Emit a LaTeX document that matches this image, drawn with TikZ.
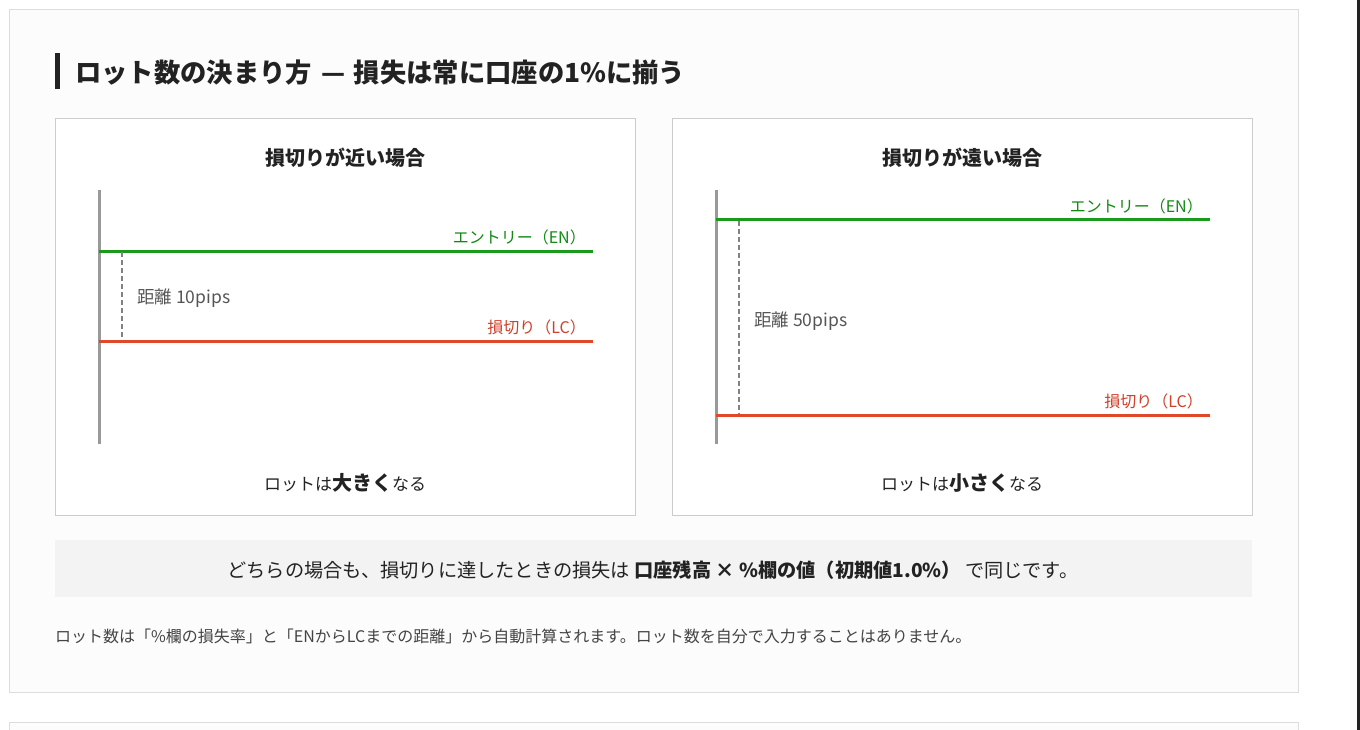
\documentclass[tikz,border=0pt]{standalone}
\usepackage{fontspec}
\setmainfont{Noto Sans CJK JP}
\usetikzlibrary{positioning}
\definecolor{cardbg}{HTML}{FCFCFC}
\definecolor{cardline}{HTML}{DDDDDD}
\definecolor{panelline}{HTML}{CCCCCC}
\definecolor{axisgray}{HTML}{999999}
\definecolor{enline}{HTML}{1A9A1A}
\definecolor{entext}{HTML}{128A12}
\definecolor{lcline}{HTML}{E0482A}
\definecolor{lctext}{HTML}{D0402A}
\definecolor{bannerbg}{HTML}{F3F3F3}
\definecolor{txtdark}{HTML}{222222}
\definecolor{txtgray}{HTML}{555555}
\tikzset{
  panelbox/.style={draw=panelline, line width=1pt, fill=white},
  axisline/.style={draw=axisgray, line width=3pt},
  enlevel/.style={draw=enline, line width=3pt},
  lclevel/.style={draw=lcline, line width=3pt},
  distline/.style={draw=axisgray!85!black, line width=1.6pt, dash pattern=on 5pt off 3pt},
  paneltitle/.style={font=\bfseries\fontsize{20}{24}\selectfont, text=txtdark, inner sep=0pt},
  leveltext/.style={font=\fontsize{16}{19}\selectfont, inner sep=0pt, anchor=east},
  disttext/.style={font=\fontsize{17.5}{21}\selectfont, text=txtgray, inner sep=0pt, anchor=west},
  resulttext/.style={font=\fontsize{17}{21}\selectfont, text=txtdark, inner sep=0pt}
}
\begin{document}
\begin{tikzpicture}[x=1pt, y=-1pt]
  \useasboundingbox (0,0) rectangle (1360,730);
  \fill[white] (0,0) rectangle (1360,730);

  % Cards
  \draw[cardline, fill=cardbg, line width=1pt] (9.5,9.5) rectangle (1298.5,692.5);
  \draw[cardline, fill=cardbg, line width=1pt] (9.5,722.5) rectangle (1298.5,745);
  \fill[txtdark] (1357,0) rectangle (1360,730);

  % Heading
  \fill[txtdark] (55,53) rectangle (60,89);
  \node[anchor=west, inner sep=0pt, text=txtdark, font=\bfseries\fontsize{26.3}{31}\selectfont] (head) at (75,73)
    {ロット数の決まり方\hspace{10pt}—\hspace{8pt}損失は常に口座の1\%に揃う};

  % Left panel: near stop
  \draw[panelbox] (55.5,118.5) rectangle (635.5,515.5);
  \node[paneltitle] (ntitle) at (345,158) {損切りが近い場合};
  \coordinate (naxtop) at (99,190);
  \coordinate (naxbot) at (99,444);
  \coordinate (nen0) at (99,251);
  \coordinate (nen1) at (593,251);
  \coordinate (nlc0) at (99,341);
  \coordinate (nlc1) at (593,341);
  \coordinate (nd0) at (122,252);
  \coordinate (nd1) at (122,340);
  \draw[axisline] (naxtop) -- (naxbot);
  \draw[enlevel] (nen0) -- (nen1);
  \draw[lclevel] (nlc0) -- (nlc1);
  \draw[distline] (nd0) -- (nd1);
  \node[leveltext, text=entext] (nentext) at (586,237) {エントリー（EN）};
  \node[leveltext, text=lctext] (nlctext) at (586,327) {損切り（LC）};
  \node[disttext] (ndist) at (137,298) {距離 10pips};
  \node[resulttext] (nres) at (345,483)
    {ロットは{\bfseries\fontsize{20}{24}\selectfont 大きく}なる};

  % Right panel: far stop
  \begin{scope}[xshift=617pt]
    \draw[panelbox] (55.5,118.5) rectangle (635.5,515.5);
    \node[paneltitle] (ftitle) at (345,158) {損切りが遠い場合};
    \coordinate (faxtop) at (99,190);
    \coordinate (faxbot) at (99,444);
    \coordinate (fen0) at (99,220);
    \coordinate (fen1) at (593,220);
    \coordinate (flc0) at (99,415);
    \coordinate (flc1) at (593,415);
    \coordinate (fd0) at (122,221);
    \coordinate (fd1) at (122,414);
    \draw[axisline] (faxtop) -- (faxbot);
    \draw[enlevel] (fen0) -- (fen1);
    \draw[lclevel] (flc0) -- (flc1);
    \draw[distline] (fd0) -- (fd1);
    \node[leveltext, text=entext] (fentext) at (586,206) {エントリー（EN）};
    \node[leveltext, text=lctext] (flctext) at (586,401) {損切り（LC）};
    \node[disttext] (fdist) at (137,321) {距離 50pips};
    \node[resulttext] (fres) at (345,483)
      {ロットは{\bfseries\fontsize{20}{24}\selectfont 小さく}なる};
  \end{scope}

  % Summary banner
  \fill[bannerbg] (55,540) rectangle (1252,597);
  \node[inner sep=0pt, text=txtdark, font=\fontsize{19.2}{23}\selectfont] (summary) at (653,570)
    {どちらの場合も、損切りに達したときの損失は {\bfseries 口座残高 × \%欄の値（初期値1.0\%）} で同じです。};

  % Footnote
  \node[anchor=west, inner sep=0pt, text=txtgray!80!black, font=\fontsize{16}{19}\selectfont] (note) at (55,636)
    {ロット数は「\%欄の損失率」と「ENからLCまでの距離」から自動計算されます。ロット数を自分で入力することはありません。};
\end{tikzpicture}
\end{document}
